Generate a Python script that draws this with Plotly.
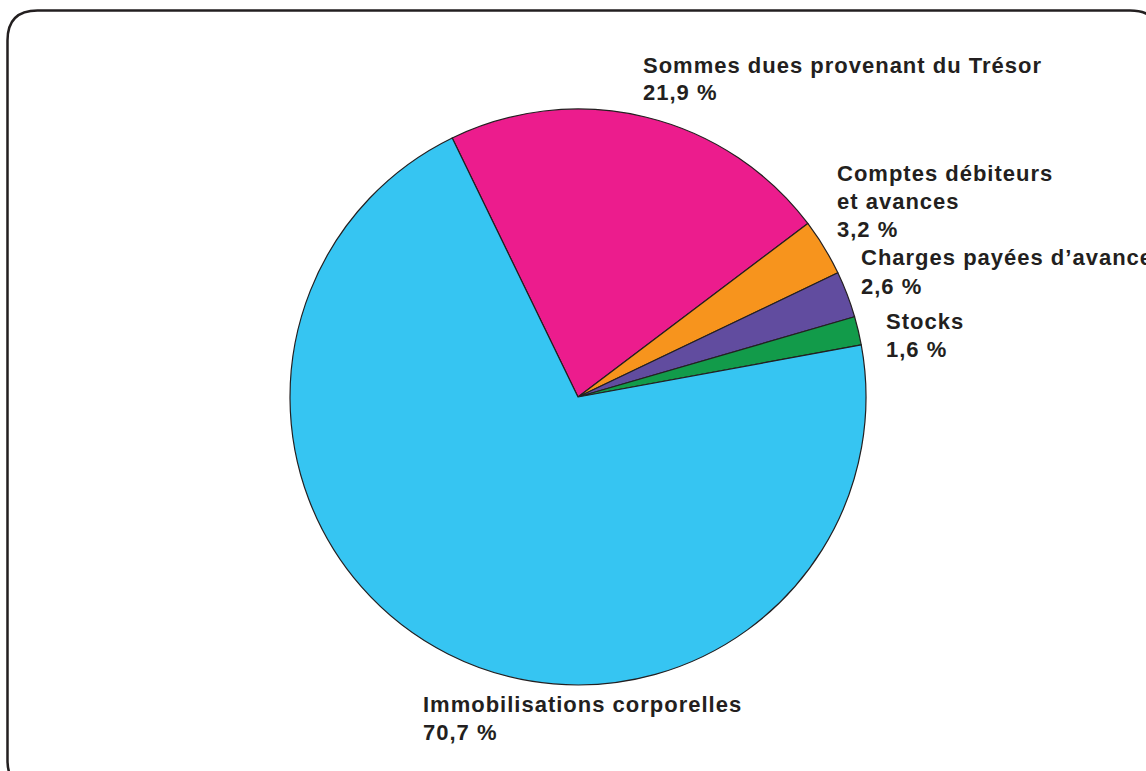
import plotly.graph_objects as go

W, H = 1146, 771

labels = ["Sommes dues provenant du Trésor", "Comptes débiteurs et avances",
          "Charges payées d’avance", "Stocks", "Immobilisations corporelles"]
values = [21.9, 3.2, 2.6, 1.6, 70.7]
colors = ["#ec1c8d", "#f7941d", "#614c9f", "#129b4a", "#36c5f2"]

label_lines = [
    ["Sommes dues provenant du Trésor", "21,9 %"],
    ["Comptes débiteurs", "et avances", "3,2 %"],
    ["Charges payées d’avance", "2,6 %"],
    ["Stocks", "1,6 %"],
    ["Immobilisations corporelles", "70,7 %"],
]
# label anchor (left x, first-line cap centre y, line step) in pixels
label_pos = [(641, 65.5, 27.2), (835, 173.3, 28.3), (859, 257.7, 29), (884, 321.3, 28.7), (421, 704.5, 27.5)]

cx, cy, r = 578, 397, 288

fig = go.Figure(go.Pie(
    labels=labels, values=values, sort=False, direction="clockwise",
    rotation=-25.9,
    marker=dict(colors=colors, line=dict(color="#231f20", width=1.2)),
    textinfo="none", hoverinfo="label+percent", showlegend=False,
    domain=dict(x=[(cx - r) / W, (cx + r) / W], y=[1 - (cy + r) / H, 1 - (cy - r) / H]),
))

anns = []
for lines, (lx, ly, step) in zip(label_lines, label_pos):
    for i, t in enumerate(lines):
        anns.append(dict(
            text=f'<span style="letter-spacing:1px">{t}</span>',
            x=lx / W, y=1 - (ly + i * step) / H, xref="paper", yref="paper",
            xanchor="left", yanchor="middle", showarrow=False,
            font=dict(family="Liberation Sans, Arial, sans-serif", size=22, color="#231f20", weight="bold"),
        ))

# rounded border
x0, y0, x1, y1, rr = 7.5, 10.5, 1160, 790, 30
def P(x, y):
    return f"{x / W:.5f},{1 - y / H:.5f}"
path = (f"M {P(x0 + rr, y0)} L {P(x1 - rr, y0)} Q {P(x1, y0)} {P(x1, y0 + rr)} "
        f"L {P(x1, y1 - rr)} Q {P(x1, y1)} {P(x1 - rr, y1)} "
        f"L {P(x0 + rr, y1)} Q {P(x0, y1)} {P(x0, y1 - rr)} "
        f"L {P(x0, y0 + rr)} Q {P(x0, y0)} {P(x0 + rr, y0)} Z")

fig.update_layout(
    width=W, height=H, margin=dict(l=0, r=0, t=0, b=0),
    paper_bgcolor="white", plot_bgcolor="white",
    annotations=anns,
    shapes=[dict(type="path", path=path, xref="paper", yref="paper",
                 line=dict(color="#231f20", width=2.5), layer="below")],
)

fig.write_html("out.html", config={"displayModeBar": False},
               post_script="document.body.style.margin='0';")
